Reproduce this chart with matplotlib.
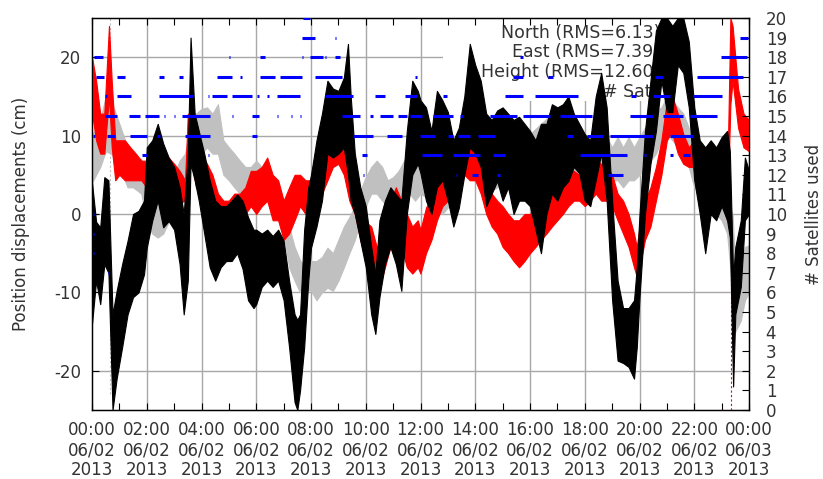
import matplotlib

matplotlib.use("Agg")
import matplotlib.pyplot as plt
from matplotlib.patches import Rectangle

# ---- data (hours since 00:00 06/02/2013, cm) ----
# Each noisy series is stored as a band: sample times, lower and upper envelope.
height_t = [0.0, 0.15, 0.3, 0.45, 0.6, 0.75, 0.9, 1.1, 1.3, 1.5, 1.7, 1.9, 2.0, 2.2, 2.4,
            2.6, 2.8, 3.0, 3.2, 3.35, 3.5, 3.6, 3.75, 3.9, 4.1, 4.3, 4.5, 4.7, 4.9, 5.1,
            5.3, 5.5, 5.7, 5.9, 6.0, 6.2, 6.4, 6.6, 6.8, 7.0, 7.2, 7.4, 7.5, 7.6, 7.75,
            7.9, 8.0, 8.2, 8.4, 8.6, 8.8, 9.0, 9.2, 9.35, 9.45, 9.6, 9.8, 10.0, 10.2,
            10.35, 10.5, 10.7, 10.9, 11.1, 11.3, 11.5, 11.7, 11.9, 12.0, 12.2, 12.4,
            12.6, 12.8, 13.0, 13.2, 13.4, 13.6, 13.8, 14.0, 14.2, 14.4, 14.6, 14.8,
            15.0, 15.2, 15.4, 15.6, 15.8, 16.0, 16.2, 16.4, 16.6, 16.8, 17.0, 17.2,
            17.4, 17.6, 17.8, 18.0, 18.2, 18.4, 18.6, 18.8, 19.0, 19.2, 19.4, 19.6,
            19.8, 19.9, 20.0, 20.2, 20.4, 20.6, 20.8, 21.0, 21.2, 21.4, 21.6, 21.8,
            22.0, 22.2, 22.4, 22.6, 22.8, 23.0, 23.2, 23.3, 23.42, 23.5, 23.7, 23.85, 24.0]
height_lo = [-14, -8.5, -11.5, -6.4, -7.5, -25, -21, -17, -12.8, -10.6, -10, -7.7, -4.3,
             -0.85, 1.7, -1.7, -0.9, -2, -6.4, -12.8, -8.5, 6.4, 4.3, 1.7, -2.5, -6.8,
             -8.5, -6.8, -6, -6, -5, -7, -11, -12, -11.5, -9.3, -8.5, -9.3, -8.5, -11,
             -17, -24, -25, -22.5, -17, -8.5, -4.3, -1.6, 1.7, 7.7, 7.2, 7.7, 8.5, 5,
             1.7, 0, -3.4, -6.8, -12.8, -15.3, -10.6, -6.4, -4.2, -6.4, -9.8, 0, 5,
             6.4, 5.2, 1.7, 0, 3.4, 4.3, 1.7, -1.6, 0.8, 5, 8.5, 7.7, 6, 1, 2.6, 4.2,
             1.7, 3.4, 0, 1.7, 1.7, 1, -2, -5, 0, 2.6, 1.7, 3.4, 4.2, 6, 5.2, 1.7, 1,
             4.3, 7.7, 1.7, -11, -18.7, -19, -19.5, -21, -17, -10.6, 0, 6.4, 10.6, 17,
             13, 13, 19, 18, 13.6, 4.3, 0, -5, 0, -0.8, 1, -0.8, -3, -22, -12.8, -9.3,
             -0.8, 0]
height_hi = [4, -1, -1.7, 4.7, 4.3, -12.8, -9.8, -6.4, -3.4, 0, 0.4, 1.7, 8.5, 9.4, 11.5,
             9, 7.2, 6, 3.4, 0, 7.7, 22.5, 12.8, 10.6, 7.7, 4.3, 1.7, 1, 1, 1.7, 2.5,
             1.7, -0.4, -2, -2, -2.5, -2, -2.8, -2, -3.4, -8.5, -12.8, -13.5, -12.8, -2,
             3.4, 5, 9.4, 12.8, 17, 16, 15.7, 17.4, 21.7, 15, 7.7, 3.4, 1, -4.2, -7.7,
             -0.8, 1.7, 3.4, 2.5, 1.7, 10.6, 17, 15.7, 14.5, 13.6, 10.6, 15.7, 14.5, 13,
             9.4, 11, 15, 21.7, 19, 17, 12.8, 12, 13.2, 13.6, 12.8, 12, 12.4, 11.5, 10.6,
             9.4, 11.5, 11.5, 14, 13.6, 14, 15, 12.8, 11.5, 10.2, 9.4, 15, 18, 13.6,
             1.7, -8.5, -12, -12, -11, -6.8, 0, 10.6, 17, 23.4, 25, 25, 24, 25, 25, 22,
             13.6, 9.4, 8.5, 9.4, 8.5, 9.8, 10.6, 8, -8, -4.2, -0.8, 7.2, 5.5]

north_t = [0.0, 0.3, 0.5, 0.7, 1.0, 1.3, 1.5, 1.8, 2.0, 2.2, 2.4, 2.6, 2.8, 3.0, 3.2, 3.4,
           3.6, 3.8, 4.0, 4.2, 4.4, 4.6, 4.8, 5.0, 5.2, 5.4, 5.6, 5.8, 6.0, 6.2, 6.4,
           6.6, 6.8, 7.0, 7.2, 7.4, 7.6, 7.8, 8.0, 8.2, 8.4, 8.6, 8.8, 9.0, 9.2, 9.4,
           9.6, 9.8, 10.0, 10.2, 10.4, 10.6, 10.8, 11.0, 11.2, 11.4, 11.6, 11.8, 12.0,
           12.4, 12.8, 13.2, 13.6, 14.0, 14.4, 14.8, 15.2, 15.6, 16.0, 16.4, 16.8, 17.2,
           17.6, 18.0, 18.4, 18.8, 19.0, 19.2, 19.4, 19.6, 19.8, 20.0, 20.2, 20.4, 20.6,
           20.8, 21.0, 21.2, 21.4, 21.6, 21.8, 22.0, 22.2, 22.4, 22.6, 22.8, 23.0, 23.2,
           23.4, 23.5, 23.7, 23.85, 24.0]
north_lo = [4, 6, 8, 7.7, 6, 3.4, 3.4, 2.6, -1, -2.5, -3, -2.5, -1, 1, 1.7, 3.4, 6.4, 8.5,
            7.7, 8.5, 7.7, 7.7, 5, 4.3, 3.4, 2.6, 3.4, 2.6, 1.8, 1.7, 1.7, 0.9, 0, -2.5,
            -6.8, -8.5, -10, -9.6, -9.8, -11, -10, -9.4, -9.8, -8.5, -6.8, -5, -3.3,
            -0.8, 1, 2.6, 2.6, 1.7, 1, 0, 1, 1.7, 2.6, 1.7, 2.6, 1.7, 0, 1.7, 5, 4.3,
            2.6, 3.4, 4.2, 5, 5, 6, 7, 6, 5, 3.4, 4.3, 5, 4.3, 4.3, 3.4, 4.3, 4.3, 5, 6,
            6.8, 7.7, 9.4, 10.2, 9.4, 8.5, 7.7, 6, 3.4, 2.6, 1.7, 0.9, 0, -0.8, -2.5,
            -10, -15, -13.6, -11, -10]
north_hi = [10, 12, 15, 14.5, 11.5, 8.5, 7.7, 7, 5, 1.7, 1.3, 1.7, 3.4, 5, 6.8, 7.7, 11.5,
            12.8, 13.4, 13.6, 12.8, 14, 9.4, 8.5, 7.7, 6.8, 6, 6, 6.8, 6, 5, 4.3, 3.4,
            1.7, -1.6, -4.2, -5.9, -6.8, -6, -6, -5.5, -4.3, -5, -3.3, -1.6, -0.4, 1, 3,
            4.7, 6, 6.8, 6, 4.3, 4.7, 5.5, 6.8, 7.7, 6.8, 7.2, 6, 6.8, 7.7, 9.4, 8.5,
            7.7, 8.5, 9.4, 10.6, 10.2, 11.5, 12.8, 12, 10.2, 8.5, 8.1, 9.8, 8.5, 9.8,
            8.5, 9.8, 8.5, 9.8, 11, 11.9, 13.2, 13.6, 15, 14.5, 13.6, 12.8, 11, 8.5, 6.8,
            6, 5, 4.3, 3.4, 1.7, 0, -7.6, -6.4, -4.2, -4]

east_t = [0.0, 0.15, 0.3, 0.45, 0.62, 0.72, 0.85, 1.0, 1.2, 1.4, 1.6, 1.8, 2.0, 2.2, 2.4,
          2.6, 2.8, 3.0, 3.2, 3.4, 3.5, 3.6, 3.8, 4.0, 4.2, 4.4, 4.6, 4.8, 5.0, 5.2, 5.4,
          5.6, 5.8, 6.0, 6.2, 6.4, 6.6, 6.8, 7.0, 7.2, 7.4, 7.6, 7.8, 8.0, 8.2, 8.4, 8.6,
          8.8, 9.0, 9.2, 9.4, 9.6, 9.8, 10.0, 10.2, 10.4, 10.5, 10.7, 10.9, 11.1, 11.3,
          11.5, 11.7, 11.9, 12.0, 12.2, 12.4, 12.6, 12.8, 13.0, 13.2, 13.4, 13.6, 13.8,
          14.0, 14.2, 14.4, 14.6, 14.8, 15.0, 15.2, 15.4, 15.6, 15.8, 16.0, 16.2, 16.4,
          16.6, 16.8, 17.0, 17.2, 17.4, 17.6, 17.8, 18.0, 18.2, 18.4, 18.6, 18.8, 19.0,
          19.2, 19.4, 19.6, 19.8, 19.9, 20.0, 20.2, 20.4, 20.6, 20.8, 21.0, 21.1, 21.2,
          21.4, 21.6, 21.8, 22.0, 22.2, 22.4, 22.6, 22.8, 23.0, 23.2, 23.32, 23.4, 23.6,
          23.8, 24.0]
east_lo = [12.8, 9.4, 7.7, 7.7, 15, 8.5, 4.3, 5, 4.3, 4.3, 4.3, 4.3, 3.4, 2.6, 1.7, 1, 1,
           1, 1.4, 1.7, 9, 7.2, 3.4, 2.6, 1, -0.8, -1.6, -2.5, -2.5, -1.6, -0.8, 0, 1, 0,
           1, 1.7, -0.8, -0.8, -3.3, -2.5, -0.8, 1, 0, 1, 1.7, 2.6, 4.3, 6, 6.4, 5, 1.7,
           0, -3.3, -6, -6.8, -7.6, -9.4, -6.8, -4.2, -2.5, -4.2, -6.8, -7.6, -6.8,
           -7.6, -5, -3.3, -0.8, 1, 1.7, 3.4, 5, 5, 4.3, 4.3, 2.6, 0, -1.6, -2.5, -4.2,
           -5, -6, -6.8, -6, -5, -4.2, -3.3, -2.5, -1.6, -0.8, 0, 1, 1.7, 1.7, 1, 1.7,
           2.6, 1.7, 1.7, 1, -0.8, -2.5, -4.2, -6.8, -8, -6.8, -3.3, -1.6, 1.7, 5, 9.4,
           10, 10.2, 7.7, 6.4, 6, 6, 5, 4.3, 3.4, 2.6, 1.7, -0.8, 14, 17, 11, 8.5, 8]
east_hi = [20, 17, 12.8, 12.8, 24, 17, 9.4, 9.4, 9.4, 8.5, 7.7, 6.8, 6.8, 6, 5, 6.4, 7.2,
           6.4, 5.5, 4.3, 12.8, 11.5, 8.5, 7.7, 6.4, 5, 2.6, 1.7, 1.7, 2.6, 2.6, 3.4, 5.5,
           5.5, 6, 7.2, 5, 4.3, 1.7, 3.4, 5, 5, 4.3, 4.3, 6, 6.8, 8.5, 10, 11.5, 11, 8.5,
           5, 1.7, -1, -1.6, -4.2, -4.2, -0.8, 1.7, 3.4, 1.7, 0, -1.6, -0.8, -2, 0.8,
           2.2, 4.3, 6, 6.8, 7.7, 9.4, 9.4, 8.5, 8.5, 7.7, 6, 2.6, 1.7, 1, 0, -0.8, -0.8,
           0, 0, 1, 1.7, 2.6, 3.4, 4.3, 5, 5.5, 5.5, 5, 5.5, 6, 6.8, 6.4, 6, 5, 2.6, 1.7,
           0, -2.5, -4.2, -1.6, 1.7, 3.4, 6, 9.4, 14.5, 20, 15, 12.8, 10.2, 8.5, 9.4,
           8.5, 7.7, 6, 5, 4.3, 3.4, 25, 24, 16, 12.8, 12]

# dotted connector lines across data gaps: time, bottom, top
north_gap = (0.65, -23.0, 25.0)
east_gap = (23.33, -25.0, -5.0)

# number of satellites: runs of constant count (start h, end h)
sat_runs = {
    20: [(7.70, 7.96)],
    19: [(7.67, 8.15), (8.86, 8.92), (23.67, 23.96)],
    18: [(0.07, 0.40), (5.00, 5.05), (6.14, 6.32), (7.67, 7.70), (7.96, 8.44), (8.50, 8.55),
         (8.88, 9.05), (15.64, 15.75), (22.98, 23.93)],
    17: [(0.15, 0.44), (0.91, 1.21), (2.45, 2.63), (3.18, 3.32), (4.57, 5.11), (5.41, 5.48),
         (6.14, 6.68), (6.87, 7.67), (8.15, 9.13), (11.80, 11.87), (15.38, 15.75),
         (16.66, 16.84), (20.57, 20.86), (22.10, 23.78)],
    16: [(0.48, 0.55), (0.91, 1.42), (2.45, 3.69), (4.24, 4.28), (4.38, 4.93), (5.11, 5.84),
         (6.03, 6.10), (6.40, 6.47), (6.76, 7.60), (8.51, 9.53), (10.34, 10.70),
         (11.43, 11.87), (12.82, 12.97), (15.09, 15.75), (16.18, 17.75), (19.69, 19.87),
         (20.49, 21.11), (21.95, 23.01)],
    15: [(0.47, 0.91), (1.35, 1.75), (1.94, 2.45), (2.62, 2.66), (3.00, 3.05), (3.29, 4.31),
         (5.11, 5.15), (5.84, 6.10), (6.76, 6.80), (7.28, 7.32), (7.60, 7.64), (9.13, 9.79),
         (10.16, 10.26), (10.52, 11.00), (11.18, 11.51), (11.62, 12.05), (12.46, 13.19),
         (13.44, 13.55), (14.54, 15.53), (15.74, 16.73), (17.10, 18.26), (19.65, 20.49),
         (20.86, 21.59), (21.85, 22.83)],
    14: [(0.04, 0.11), (0.55, 0.84), (1.39, 2.01), (2.37, 2.48), (3.40, 4.31), (5.84, 6.03),
         (9.53, 10.26), (10.78, 11.32), (11.98, 12.53), (13.00, 13.19), (13.37, 13.81),
         (14.10, 14.72), (15.00, 15.03), (17.35, 17.57), (18.08, 18.67), (18.92, 20.49),
         (21.11, 21.95)],
    13: [(1.83, 2.01), (4.22, 4.26), (9.86, 10.05), (12.05, 12.79), (13.19, 14.17),
         (14.65, 15.09), (17.83, 19.54), (20.18, 20.22), (21.11, 21.22), (21.59, 21.85)],
    12: [(9.90, 9.94), (13.28, 13.32), (13.88, 14.10), (14.79, 14.90), (18.85, 19.40)],
    10: [(0.02, 0.06)],
    9: [(0.02, 0.06)],
    8: [(0.02, 0.06), (23.33, 23.36)],
    7: [(0.60, 0.63)],
}

labels = ["North (RMS=6.13)", "East (RMS=7.39)", "Height (RMS=12.60)", "# Sats"]
colors = ["#c0c0c0", "#ff0000", "#000000", "#0000ff"]

hour_ticks = list(range(0, 25, 2))
hour_labels = ["00:00\n06/02\n2013", "02:00\n06/02\n2013", "04:00\n06/02\n2013",
               "06:00\n06/02\n2013", "08:00\n06/02\n2013", "10:00\n06/02\n2013",
               "12:00\n06/02\n2013", "14:00\n06/02\n2013", "16:00\n06/02\n2013",
               "18:00\n06/02\n2013", "20:00\n06/02\n2013", "22:00\n06/02\n2013",
               "00:00\n06/03\n2013"]

txt = "#333333"
plt.rcParams["font.family"] = ["DejaVu Sans"]
plt.rcParams["font.size"] = 12

fig = plt.figure(figsize=(8.23, 4.79), dpi=100)
ax = fig.add_axes([92 / 823, 69 / 479, 657 / 823, 392 / 479])
ax2 = ax.twinx()

ax.set_xlim(0, 24)
ax.set_ylim(-25, 25)
ax2.set_ylim(0, 20)

# grid
for h in hour_ticks[1:-1]:
    ax.axvline(h, color="#a8a8a8", lw=1.0, zorder=0)
for v in [-20, -10, 0, 10, 20]:
    ax.axhline(v, color="#a8a8a8", lw=1.0, zorder=0)
# key area hides the grid
ax.add_patch(Rectangle((12.82, 14.4), 24 - 12.82, 25 - 14.4, facecolor="white",
                       edgecolor="none", zorder=0.5))

for i, lab in enumerate(labels):
    ax.text(0.865, 0.963 - i * 0.0505, lab, transform=ax.transAxes, ha="right", va="center",
            color=txt, fontsize=12.5, zorder=1)

ax.vlines(north_gap[0], north_gap[1], north_gap[2], colors=colors[0], lw=0.8,
          linestyles=(0, (2, 2)), zorder=2)
ax.fill_between(north_t, north_lo, north_hi, color=colors[0], lw=0.8, zorder=2)
ax.fill_between(east_t, east_lo, east_hi, color=colors[1], lw=0.8, zorder=3)
ax.vlines(east_gap[0], east_gap[1], east_gap[2], colors=colors[1], lw=0.8,
          linestyles=(0, (2, 2)), zorder=3)
ax.fill_between(height_t, height_lo, height_hi, color=colors[2], lw=0.8, zorder=4)

ax2.set_zorder(ax.get_zorder() + 1)
ax2.patch.set_visible(False)
for n, runs in sat_runs.items():
    for a, b in runs:
        ax2.hlines(n, a, b, colors=colors[3], lw=2.2, zorder=5)

# ticks
ax.set_xticks(hour_ticks)
ax.set_xticklabels(hour_labels, color=txt, linespacing=1.15)
ax.set_xticks(range(1, 24, 2), minor=True)
ax.set_yticks([-20, -10, 0, 10, 20])
ax.set_yticklabels(["-20", "-10", "0", "10", "20"], color=txt)
ax.tick_params(axis="both", which="both", direction="in", top=True, length=5, width=0.8)
ax.tick_params(axis="x", which="major", pad=8)
ax.tick_params(axis="y", pad=8)
ax2.set_yticks(range(0, 21))
ax2.set_yticklabels([str(k) for k in range(0, 21)], color=txt)
ax2.tick_params(axis="y", direction="in", length=5, width=0.8, pad=12)

ax.set_ylabel("Position displacements (cm)", color=txt, fontsize=12, labelpad=17)
ax2.set_ylabel("# Satellites used", color=txt, fontsize=12, rotation=90, labelpad=13)

for sp in ax.spines.values():
    sp.set_linewidth(1.0)

fig.savefig("out.png", dpi=100)
